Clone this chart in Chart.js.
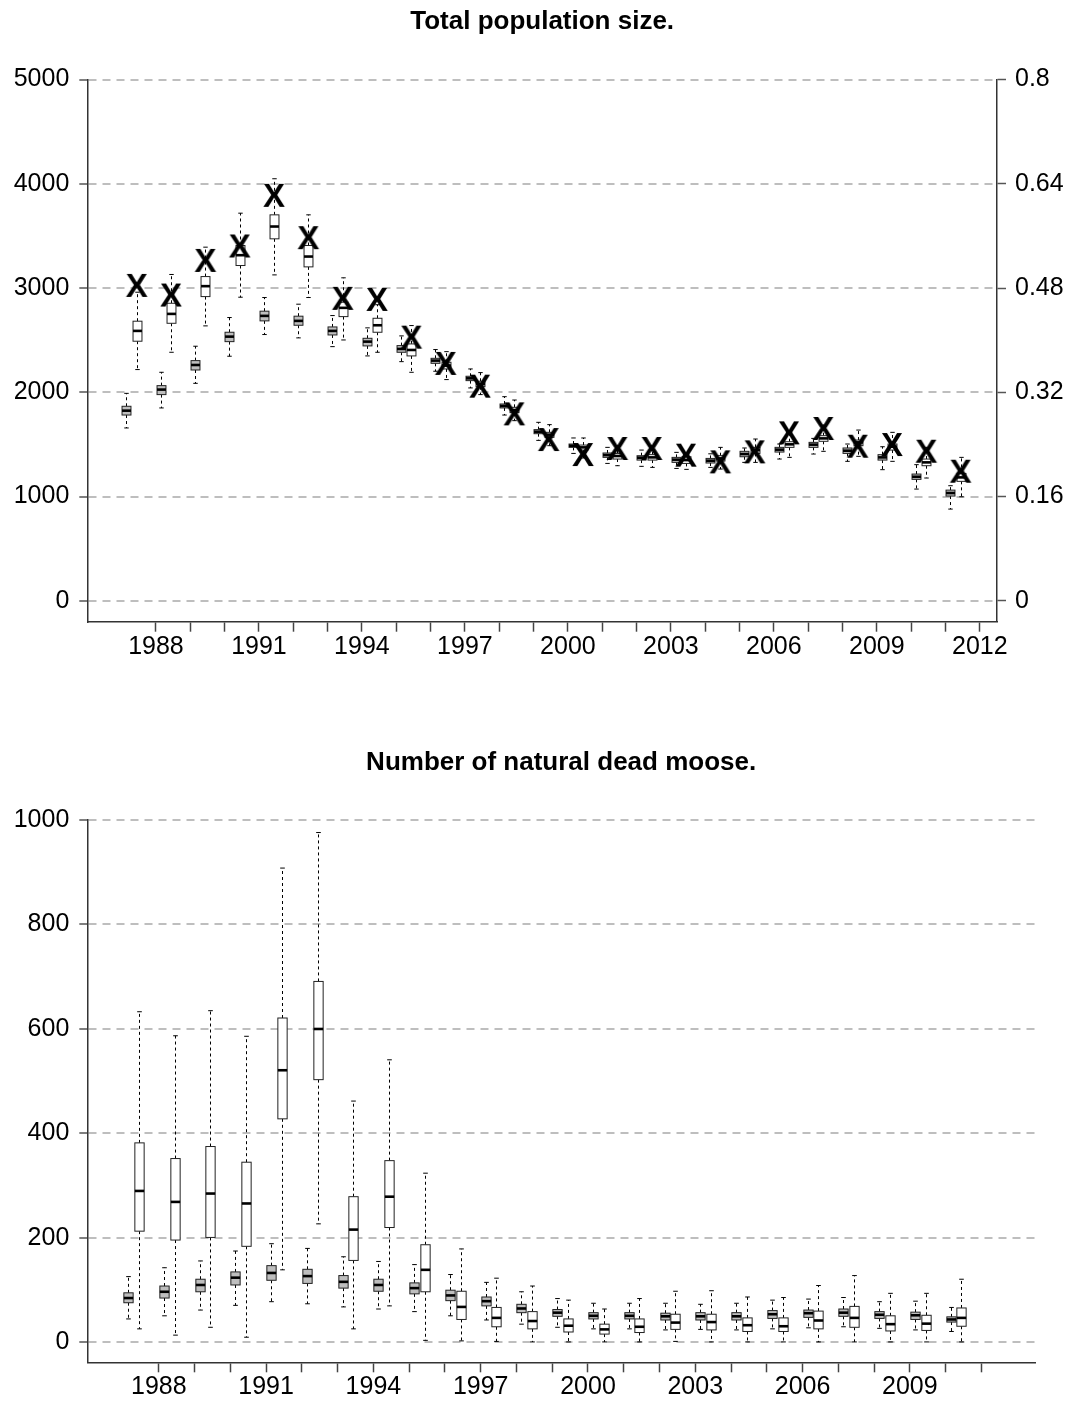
<!DOCTYPE html>
<html>
<head>
<meta charset="utf-8">
<script src="https://cdn.jsdelivr.net/npm/chart.js@4.4.1/dist/chart.umd.min.js"></script>
<style>
  html, body { margin: 0; padding: 0; background: #fff; }
  #wrap { position: relative; width: 1071px; height: 1403px; }
  canvas { position: absolute; left: 0; }
  #popChart { top: 0; }
  #deadChart { top: 700px; }
</style>
</head>
<body>
<div id="wrap">
  <canvas id="popChart" width="1071" height="700"></canvas>
  <canvas id="deadChart" width="1071" height="703"></canvas>
</div>
<script>
// --- data ---
// five-number summaries: [lower whisker, q1, median, q3, upper whisker]
const popYears = [1987, 1988, 1989, 1990, 1991, 1992, 1993, 1994, 1995, 1996, 1997, 1998, 1999,
                  2000, 2001, 2002, 2003, 2004, 2005, 2006, 2007, 2008, 2009, 2010, 2011];
const popGray = [
  [1658, 1782, 1824, 1866, 1990], [1850, 1978, 2026, 2064, 2192], [2086, 2214, 2262, 2304, 2442],
  [2346, 2486, 2534, 2576, 2717], [2554, 2685, 2733, 2778, 2909], [2522, 2643, 2685, 2730, 2845],
  [2438, 2550, 2589, 2627, 2736], [2349, 2445, 2486, 2518, 2618], [2294, 2384, 2416, 2448, 2541],
  [2202, 2278, 2304, 2326, 2410], [2042, 2112, 2134, 2154, 2224], [1782, 1850, 1869, 1888, 1958],
  [1539, 1603, 1622, 1642, 1712], [1414, 1472, 1488, 1504, 1562], [1318, 1376, 1398, 1418, 1472],
  [1290, 1350, 1373, 1392, 1446], [1270, 1328, 1354, 1376, 1424], [1280, 1322, 1344, 1366, 1410],
  [1328, 1382, 1408, 1434, 1466], [1360, 1427, 1450, 1472, 1504], [1408, 1472, 1498, 1520, 1558],
  [1338, 1414, 1440, 1466, 1504], [1258, 1350, 1376, 1402, 1478], [1072, 1165, 1190, 1216, 1306],
  [880, 1005, 1034, 1062, 1104]
];
const popWhite = [
  [2218, 2490, 2589, 2682, 2960], [2384, 2662, 2752, 2854, 3130], [2637, 2918, 3018, 3110, 3392],
  [2912, 3216, 3315, 3408, 3718], [3126, 3472, 3590, 3702, 4048], [2909, 3203, 3302, 3408, 3702],
  [2502, 2726, 2810, 2864, 3098], [2384, 2576, 2643, 2710, 2840], [2192, 2349, 2406, 2464, 2640],
  [2122, 2224, 2256, 2288, 2390], [1978, 2054, 2080, 2106, 2189], [1728, 1805, 1830, 1856, 1926],
  [1488, 1568, 1594, 1616, 1690], [1370, 1446, 1472, 1494, 1562], [1296, 1360, 1389, 1414, 1466],
  [1280, 1350, 1376, 1402, 1440], [1261, 1318, 1350, 1382, 1408], [1264, 1341, 1366, 1392, 1472],
  [1328, 1414, 1446, 1472, 1552], [1376, 1472, 1501, 1526, 1632], [1434, 1530, 1558, 1584, 1686],
  [1386, 1488, 1520, 1542, 1638], [1338, 1446, 1478, 1504, 1616], [1178, 1296, 1328, 1360, 1472],
  [998, 1146, 1184, 1222, 1376]
];
// the "X" marks
const popCounts = [3030, 2938, 3270, 3408, 3894, 3488, 2906, 2896, 2534, 2282, 2064, 1798, 1552,
                   1408, 1466, 1466, 1402, 1338, 1434, 1616, 1658, 1488, 1504, 1440, 1248];
const popTicks = [0, 1000, 2000, 3000, 4000, 5000];
const popRightTicks = [0, 0.16, 0.32, 0.48, 0.64, 0.8];
const popRightLabels = ['0', '0.16', '0.32', '0.48', '0.64', '0.8'];
const popYearTicks = [1988, 1989, 1990, 1991, 1992, 1993, 1994, 1995, 1996, 1997, 1998, 1999, 2000,
                      2001, 2002, 2003, 2004, 2005, 2006, 2007, 2008, 2009, 2010, 2011, 2012];

const deadYears = [1987, 1988, 1989, 1990, 1991, 1992, 1993, 1994, 1995, 1996, 1997, 1998,
                   1999, 2000, 2001, 2002, 2003, 2004, 2005, 2006, 2007, 2008, 2009, 2010];
const deadGray = [
  [45, 76, 85, 95, 126], [51, 85, 97, 108, 143], [62, 97, 110, 121, 156], [71, 110, 124, 135, 175],
  [78, 119, 133, 147, 189], [74, 113, 127, 140, 180], [68, 104, 116, 128, 164], [64, 98, 110, 121, 155],
  [59, 93, 104, 114, 149], [51, 80, 90, 100, 130], [43, 70, 79, 87, 115], [35, 57, 65, 73, 97],
  [29, 50, 57, 63, 84], [26, 45, 51, 57, 75], [26, 45, 51, 57, 75], [24, 43, 50, 56, 75],
  [25, 43, 50, 57, 73], [24, 43, 50, 57, 75], [26, 46, 54, 61, 81], [28, 48, 56, 62, 83],
  [30, 50, 57, 64, 86], [27, 46, 53, 59, 78], [24, 44, 52, 58, 79], [21, 39, 44, 49, 67]
];
const deadWhite = [
  [26, 213, 290, 382, 633], [14, 196, 269, 352, 587], [29, 201, 285, 375, 635], [10, 184, 266, 345, 586],
  [139, 428, 521, 621, 908], [227, 503, 600, 691, 976], [26, 157, 216, 279, 462], [70, 220, 279, 348, 541],
  [4, 97, 139, 187, 324], [3, 44, 68, 98, 179], [2, 30, 47, 67, 123], [1, 26, 41, 59, 108],
  [1, 20, 32, 45, 81], [1, 16, 25, 35, 64], [1, 19, 30, 45, 84], [2, 25, 38, 54, 98],
  [1, 24, 39, 54, 99], [1, 21, 33, 47, 87], [1, 21, 31, 47, 86], [1, 26, 42, 60, 109],
  [1, 29, 47, 69, 128], [1, 22, 35, 51, 94], [1, 23, 36, 52, 94], [1, 31, 47, 66, 121]
];
const deadTicks = [0, 200, 400, 600, 800, 1000];
const deadYearTicks = [1988, 1989, 1990, 1991, 1992, 1993, 1994, 1995, 1996, 1997, 1998, 1999,
                       2000, 2001, 2002, 2003, 2004, 2005, 2006, 2007, 2008, 2009, 2010, 2011];
const yearLabels = [1988, 1991, 1994, 1997, 2000, 2003, 2006, 2009, 2012];

// --- look ---
const FONT = '"Liberation Sans", Arial, Helvetica, sans-serif';
Chart.defaults.font.family = FONT;
Chart.defaults.color = '#000';
const GRID = '#bebebe';
const AXIS = '#333';
const grayOffset = 0.14;   // pair sits just right of the year tick
const whiteOffset = 0.44;
const boxWidth = 0.26;     // in years

// X glyph used as point style
function makeCross() {
    const c = document.createElement('canvas');
    c.width = 44; c.height = 44;
    const g = c.getContext('2d');
    g.font = 'bold 33px ' + FONT;
    g.textAlign = 'center';
    g.textBaseline = 'alphabetic';
    g.fillStyle = '#000';
    g.fillText('X', 22, 22 + 0.716 * 33 / 2);
    return c;
}

// R-style boxplots drawn from scatter datasets that carry the five numbers
const boxPlot = {
    id: 'boxPlot',
    beforeDatasetsDraw(chart) {
        const {ctx, scales: {x, y}} = chart;
        const half = (x.getPixelForValue(1986 + boxWidth) - x.getPixelForValue(1986)) / 2;
        ctx.save();
        chart.data.datasets.forEach((ds, di) => {
            if (!ds.stats) return;
            const meta = chart.getDatasetMeta(di);
            ds.stats.forEach((st, i) => {
                const cx = Math.round(meta.data[i].x) + 0.5;
                const [lo, q1, med, q3, hi] = st.map(v => y.getPixelForValue(v));
                // whiskers
                ctx.strokeStyle = '#000';
                ctx.lineWidth = 1;
                ctx.setLineDash([3, 3]);
                ctx.beginPath();
                ctx.moveTo(cx, q3); ctx.lineTo(cx, hi);
                ctx.moveTo(cx, q1); ctx.lineTo(cx, lo);
                ctx.stroke();
                ctx.setLineDash([]);
                // staples
                ctx.beginPath();
                ctx.moveTo(cx - half / 2, hi); ctx.lineTo(cx + half / 2, hi);
                ctx.moveTo(cx - half / 2, lo); ctx.lineTo(cx + half / 2, lo);
                ctx.stroke();
                // box
                ctx.fillStyle = ds.boxFill;
                ctx.fillRect(cx - half, q3, half * 2, q1 - q3);
                ctx.strokeStyle = '#222';
                ctx.strokeRect(cx - half, q3, half * 2, q1 - q3);
                // median
                ctx.strokeStyle = '#000';
                ctx.lineWidth = 2.6;
                ctx.beginPath();
                ctx.moveTo(cx - half, med); ctx.lineTo(cx + half, med);
                ctx.stroke();
            });
        });
        ctx.restore();
    }
};

function boxDataset(years, stats, offset, fill) {
    return {
        type: 'scatter',
        data: years.map((yr, i) => ({x: yr + offset, y: stats[i][2]})),
        stats: stats,
        boxFill: fill,
        pointRadius: 0
    };
}

function yearAxis(ticks) {
    return {
        type: 'linear',
        min: 1986,
        max: 2012.5,
        afterBuildTicks: s => { s.ticks = ticks.map(v => ({value: v})); },
        ticks: {
            autoSkip: false,
            maxRotation: 0,
            padding: 0,
            font: {size: 25},
            callback: v => yearLabels.includes(v) ? String(v) : ''
        },
        grid: {drawOnChartArea: false, tickLength: 10, tickColor: '#444', tickWidth: 1.5},
        border: {display: true, color: AXIS, width: 1.5}
    };
}

function valueGrid() {
    return {color: GRID, lineWidth: 2, tickLength: 8, tickColor: '#555', tickWidth: 1.5};
}

document.addEventListener('DOMContentLoaded', function() {

    // --- TOP: total population size ---
    const popX = yearAxis(popYearTicks);
    popX.afterFit = s => { s.height = 78.3; };

    new Chart(document.getElementById('popChart'), {
        type: 'scatter',
        data: {
            datasets: [
                boxDataset(popYears, popGray, grayOffset, '#bebebe'),
                boxDataset(popYears, popWhite, whiteOffset, '#ffffff'),
                {
                    type: 'scatter',
                    data: popYears.map((yr, i) => ({x: yr + whiteOffset, y: popCounts[i]})),
                    pointStyle: makeCross(),
                    pointRadius: 10
                }
            ]
        },
        options: {
            responsive: false,
            animation: false,
            devicePixelRatio: 1,
            events: [],
            layout: {padding: 0, autoPadding: false},
            plugins: {
                legend: {display: false},
                tooltip: {enabled: false},
                title: {
                    display: true,
                    fullSize: false,
                    text: 'Total population size.',
                    font: {size: 26, weight: 'bold', lineHeight: 1.2},
                    color: '#000',
                    padding: {top: 6.4, bottom: 41.9}
                }
            },
            scales: {
                x: popX,
                y: {
                    type: 'linear',
                    position: 'left',
                    min: -200,
                    max: 5000,
                    afterBuildTicks: s => { s.ticks = popTicks.map(v => ({value: v})); },
                    afterFit: s => { s.width = 87.3; },
                    ticks: {font: {size: 25}, padding: 10, callback: v => String(v)},
                    grid: valueGrid(),
                    border: {display: true, color: AXIS, width: 1.5, dash: [8, 6]}
                },
                y2: {
                    type: 'linear',
                    position: 'right',
                    min: -200 * 0.00016,
                    max: 0.8,
                    afterBuildTicks: s => { s.ticks = popRightTicks.map(v => ({value: v})); },
                    afterFit: s => { s.width = 74; },
                    ticks: {font: {size: 25}, padding: 9, callback: (v, i) => popRightLabels[i]},
                    grid: {drawOnChartArea: false, tickLength: 9, tickColor: '#555', tickWidth: 1.5},
                    border: {display: true, color: AXIS, width: 1.5}
                }
            }
        },
        plugins: [boxPlot]
    });

    // --- BOTTOM: natural dead moose ---
    const deadX = yearAxis(deadYearTicks);
    deadX.afterFit = s => { s.height = 40.7; };

    new Chart(document.getElementById('deadChart'), {
        type: 'scatter',
        data: {
            datasets: [
                boxDataset(deadYears, deadGray, grayOffset, '#bebebe'),
                boxDataset(deadYears, deadWhite, whiteOffset, '#ffffff')
            ]
        },
        options: {
            responsive: false,
            animation: false,
            devicePixelRatio: 1,
            events: [],
            layout: {padding: {left: 0, right: 36, top: 0, bottom: 0}, autoPadding: false},
            plugins: {
                legend: {display: false},
                tooltip: {enabled: false},
                title: {
                    display: true,
                    fullSize: false,
                    text: 'Number of natural dead moose.',
                    font: {size: 26, weight: 'bold', lineHeight: 1.2},
                    color: '#000',
                    padding: {top: 47.4, bottom: 41.4}
                }
            },
            scales: {
                x: deadX,
                y: {
                    type: 'linear',
                    position: 'left',
                    min: -38,
                    max: 1000,
                    afterBuildTicks: s => { s.ticks = deadTicks.map(v => ({value: v})); },
                    afterFit: s => { s.width = 87.3; },
                    ticks: {font: {size: 25}, padding: 10, callback: v => String(v)},
                    grid: valueGrid(),
                    border: {display: true, color: AXIS, width: 1.5, dash: [8, 6]}
                }
            }
        },
        plugins: [boxPlot]
    });
});
</script>
</body>
</html>
